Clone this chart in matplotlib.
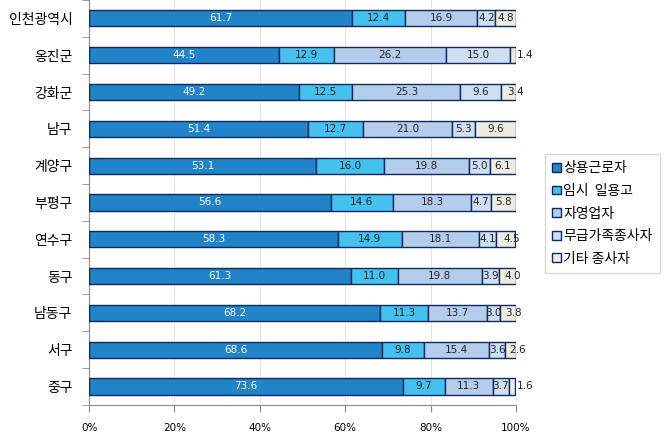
import numpy as np
import matplotlib
matplotlib.use("Agg")
import matplotlib.pyplot as plt
from matplotlib.patches import Patch

plt.rcParams['font.family'] = ['Noto Sans CJK KR', 'DejaVu Sans']

regions = ['인천광역시', '옹진군', '강화군', '남구', '계양구', '부평구',
           '연수구', '동구', '남동구', '서구', '중구']
regular = [61.7, 44.5, 49.2, 51.4, 53.1, 56.6, 58.3, 61.3, 68.2, 68.6, 73.6]
temporary = [12.4, 12.9, 12.5, 12.7, 16.0, 14.6, 14.9, 11.0, 11.3, 9.8, 9.7]
self_emp = [16.9, 26.2, 25.3, 21.0, 19.8, 18.3, 18.1, 19.8, 13.7, 15.4, 11.3]
unpaid = [4.2, 15.0, 9.6, 5.3, 5.0, 4.7, 4.1, 3.9, 3.0, 3.6, 3.7]
other = [4.8, 1.4, 3.4, 9.6, 6.1, 5.8, 4.5, 4.0, 3.8, 2.6, 1.6]

series_names = ['상용근로자', '임시  일용고', '자영업자', '무급가족종사자', '기타 종사자']
series = [regular, temporary, self_emp, unpaid, other]
colors = ['#2183C8', '#45C1EF', '#B5CDEC', '#CEDEF3', '#EEEBE1']
text_colors = ['white', '#222222', '#222222', '#222222', '#222222']
edge = '#0E2A5E'
num_font = 'DejaVu Sans'

fig = plt.figure(figsize=(6.7, 4.33), dpi=100)
ax = fig.add_axes([0.133, 0.065, 0.637, 0.935])

y = np.arange(len(regions))
left = np.zeros(len(regions))
n = len(series)
for k, (vals, col, tc) in enumerate(zip(series, colors, text_colors)):
    vals = np.array(vals)
    ax.barh(y, vals, left=left, height=0.44, color=col,
            edgecolor=edge, linewidth=1.0, zorder=3)
    for i, v in enumerate(vals):
        if v < 2:
            ax.text(left[i] + v + 0.3, y[i], f'{v:.1f}', ha='left',
                    va='center', fontsize=7.5, color=tc, zorder=4,
                    family=num_font)
            continue
        x = left[i] + v / 2
        if k == n - 1 and v < 4.6:
            # small last segment: label nudged to the right like the original
            x = 100 + (3.2 - v) * 0.8
        ax.text(x, y[i], f'{v:.1f}', ha='center',
                va='center', fontsize=7.5, color=tc, zorder=4,
                family=num_font)
    left += vals

ax.set_xlim(0, 100)
ax.set_ylim(len(regions) - 0.5, -0.5)
ax.set_xticks(np.arange(0, 101, 20))
ax.set_xticklabels([f'{t}%' for t in range(0, 101, 20)], fontsize=7.5,
                   family=num_font)
ax.set_yticks(y)
ax.set_yticklabels(regions, fontsize=10)
ax.set_yticks(np.arange(-0.5, len(regions), 1), minor=True)
ax.tick_params(axis='y', which='major', length=0, pad=12)
ax.tick_params(axis='y', which='minor', length=5, color='#888888')
ax.tick_params(axis='x', length=5, color='#888888', pad=8)
ax.grid(axis='x', color='#E4E4E4', linewidth=0.8, zorder=0)
for s in ['top', 'right']:
    ax.spines[s].set_visible(False)
for s in ['left', 'bottom']:
    ax.spines[s].set_color('#888888')

handles = [Patch(facecolor=c, edgecolor=edge, linewidth=1.0) for c in colors]
leg = fig.legend(handles, series_names, loc='upper left',
                 bbox_to_anchor=(0.813, 0.645), fontsize=10,
                 frameon=True, fancybox=False, handlelength=0.6,
                 handleheight=0.6, handletextpad=0.2, labelspacing=0.62,
                 borderpad=0.55, borderaxespad=0)
leg.get_frame().set_edgecolor('#D0D0D0')
leg.get_frame().set_linewidth(1.0)

fig.savefig('out.png', dpi=100)
